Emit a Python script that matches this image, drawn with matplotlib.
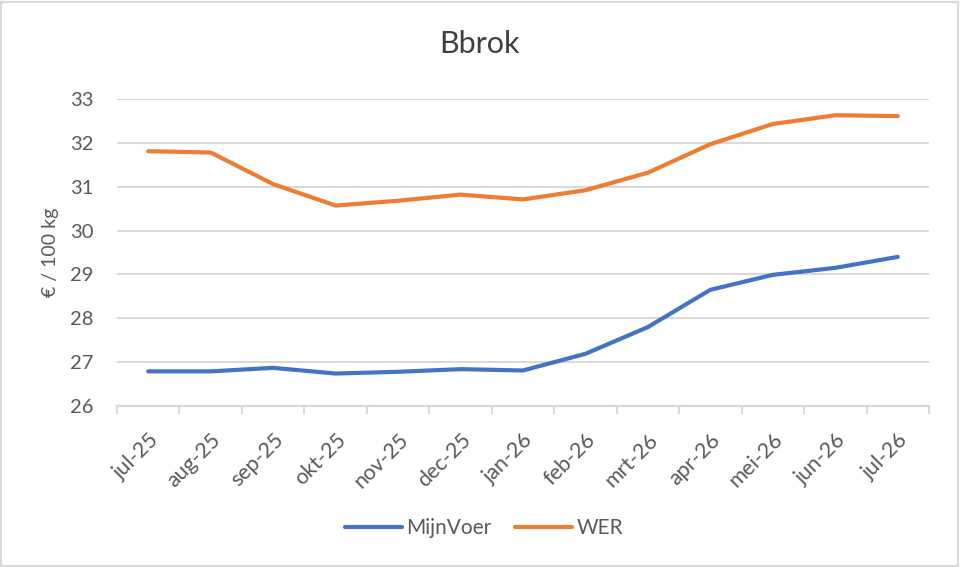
import matplotlib
matplotlib.use("Agg")
import matplotlib.pyplot as plt
from matplotlib.patches import Rectangle
from matplotlib.lines import Line2D
import numpy as np

plt.rcParams['font.family'] = ['Lato', 'DejaVu Sans']

categories = ["jul-25", "aug-25", "sep-25", "okt-25", "nov-25", "dec-25", "jan-26",
              "feb-26", "mrt-26", "apr-26", "mei-26", "jun-26", "jul-26"]
mijnvoer = [26.79, 26.79, 26.87, 26.74, 26.78, 26.84, 26.81, 27.19, 27.80, 28.65, 28.99, 29.15, 29.40]
wer = [31.81, 31.78, 31.06, 30.57, 30.68, 30.82, 30.71, 30.92, 31.32, 31.97, 32.43, 32.63, 32.61]

BLUE = "#4472C4"
ORANGE = "#ED7D31"
GRID = "#d9d9d9"
TEXT = "#595959"

fig = plt.figure(figsize=(9.6, 5.67), dpi=100)
W, H = 960, 567
ax = fig.add_axes([117 / W, 1 - 406 / H, (929 - 117) / W, (406 - 99) / H])

x = np.arange(len(categories))
ax.plot(x, mijnvoer, color=BLUE, lw=3.0, solid_capstyle='round', solid_joinstyle='round',
        zorder=3, label="MijnVoer")
ax.plot(x, wer, color=ORANGE, lw=3.0, solid_capstyle='round', solid_joinstyle='round',
        zorder=3, label="WER")

ax.set_xlim(-0.5, len(categories) - 0.5)
ax.set_ylim(26, 33)
ax.set_yticks(range(26, 34))
ax.yaxis.grid(True, color=GRID, lw=1.5)
ax.set_axisbelow(True)
for s in ['top', 'right', 'left']:
    ax.spines[s].set_visible(False)
ax.spines['bottom'].set_color(GRID)
ax.spines['bottom'].set_linewidth(1.5)
ax.tick_params(axis='y', length=0, labelsize=14.5, labelcolor=TEXT, pad=17)
ax.set_xticks(x)
ax.set_xticklabels(categories, rotation=45, ha='right', rotation_mode='anchor',
                   fontsize=15.5, color=TEXT)
ax.tick_params(axis='x', which='major', length=0, pad=17)
ax.set_xticks(np.arange(-0.5, len(categories)), minor=True)
ax.tick_params(axis='x', which='minor', length=6, width=1.5, color=GRID)
ax.set_ylabel("€ / 100 kg", fontsize=14, color=TEXT)
ax.yaxis.set_label_coords((59 - 117) / (929 - 117), 0.5)

fig.text(480 / W, 1 - 44 / H, "Bbrok", ha='center', va='center', fontsize=22, color="#404040")

handles = [Line2D([], [], color=BLUE, lw=3.0, solid_capstyle='round'),
           Line2D([], [], color=ORANGE, lw=3.0, solid_capstyle='round')]
fig.legend(handles, ["MijnVoer", "WER"], loc='center', bbox_to_anchor=(484 / W, 1 - 528 / H),
           ncol=2, frameon=False, fontsize=15, handlelength=2.75, columnspacing=1.1,
           handletextpad=0.2, labelcolor=TEXT)

fig.add_artist(Rectangle((1 / W, 1 / H), 957 / W, 564 / H, transform=fig.transFigure,
                         fill=False, edgecolor=GRID, lw=1.5))

fig.savefig("out.png", dpi=100)
